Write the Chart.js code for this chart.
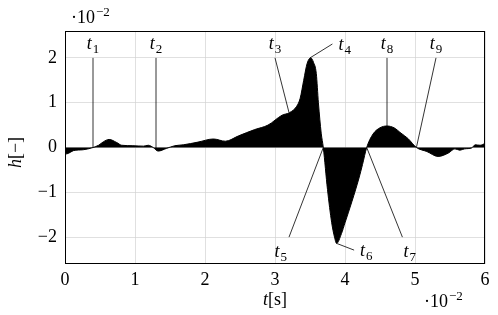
<!DOCTYPE html>
<html>
<head>
<meta charset="utf-8">
<script src="https://cdn.jsdelivr.net/npm/chart.js@4"></script>
<style>
  html, body { margin: 0; padding: 0; background: #fff; }
  #wrap { width: 498px; height: 315px; }
</style>
</head>
<body>
<div id="wrap"><canvas id="chart" width="498" height="315"></canvas></div>
<script>
// time axis (x 10^-2 s) and response h (x 10^-2)
const tVals = [0, 0.05, 0.12, 0.26, 0.38, 0.48, 0.55, 0.63, 0.74, 0.81, 0.97, 1.12, 1.19, 1.26, 1.33, 1.45, 1.57, 1.69, 1.9, 2.12, 2.29, 2.48, 2.71, 2.9, 3.1, 3.21, 3.31, 3.36, 3.41, 3.46, 3.51, 3.55, 3.59, 3.62, 3.66, 3.69, 3.75, 3.81, 3.85, 3.88, 3.95, 4.0, 4.1, 4.2, 4.25, 4.31, 4.4, 4.5, 4.6, 4.7, 4.8, 4.9, 5.02, 5.17, 5.33, 5.48, 5.57, 5.64, 5.71, 5.81, 5.86, 5.93, 6.0];
const hVals = [-0.15, -0.13, -0.07, -0.05, -0.01, 0.05, 0.13, 0.18, 0.11, 0.05, 0.04, 0.03, 0.05, 0.0, -0.08, -0.02, 0.04, 0.06, 0.12, 0.19, 0.14, 0.26, 0.4, 0.5, 0.72, 0.78, 0.92, 1.1, 1.5, 1.88, 2.0, 1.9, 1.65, 1.0, 0.32, 0, -0.94, -1.68, -2.0, -2.14, -1.92, -1.68, -1.2, -0.68, -0.38, 0, 0.3, 0.44, 0.48, 0.44, 0.32, 0.2, 0, -0.09, -0.2, -0.12, -0.03, -0.06, -0.03, -0.01, 0.06, 0.05, 0.09];

const xTicks = [0, 1, 2, 3, 4, 5, 6];
const yTicks = [-2, -1, 0, 1, 2];

// marker lines t1..t9: from point on curve to label point
const markNames = ["1", "2", "3", "4", "5", "6", "7", "8", "9"];
const markFromT = [0.4, 1.3, 3.2, 3.5, 3.69, 3.88, 4.31, 4.6, 5.02];
const markFromH = [0, -0.05, 0.78, 2.0, 0, -2.14, 0, 0.48, 0];
const markToT = [0.4, 1.3, 3.0, 3.82, 3.2, 4.13, 4.82, 4.6, 5.3];
const markToH = [2.0, 2.0, 2.0, 2.31, -2.0, -2.29, -2.0, 2.0, 2.0];
// where the label sits relative to the end of its line
const markPlace = ["above", "above", "above", "right", "belowLeft", "right", "belowRight", "above", "above"];

const serif = "'Liberation Serif', 'DejaVu Serif', serif";

const curve = tVals.map((t, i) => ({ x: t, y: hVals[i] }));

const markSets = markNames.map((n, i) => ({
  label: "t" + n,
  data: [{ x: markFromT[i], y: markFromH[i] }, { x: markToT[i], y: markToH[i] }],
  borderColor: "#000",
  borderWidth: 0.8,
  pointRadius: 0,
  fill: false,
  tension: 0
}));

function minus(v) {
  return String(v).replace("-", "\u2212");
}

const extras = {
  id: "extras",
  afterDraw(chart) {
    const ctx = chart.ctx;
    const a = chart.chartArea;
    const xs = chart.scales.x;
    const ys = chart.scales.y;
    ctx.save();
    // frame
    ctx.strokeStyle = "#000";
    ctx.lineWidth = 1;
    ctx.strokeRect(a.left + 0.5, a.top + 0.5, a.right - a.left - 1, a.bottom - a.top - 1);

    ctx.fillStyle = "#000";
    ctx.textBaseline = "alphabetic";

    // marker labels
    markNames.forEach((n, i) => {
      const px = xs.getPixelForValue(markToT[i]);
      const py = ys.getPixelForValue(markToH[i]);
      ctx.font = "italic 18px " + serif;
      const tw = ctx.measureText("t").width;
      ctx.font = "13px " + serif;
      const sw = ctx.measureText(n).width;
      const w = tw + sw + 1;
      let x0, base;
      switch (markPlace[i]) {
        case "above": x0 = px - w / 2; base = py - 9; break;
        case "right": x0 = px + 6; base = py + 6; break;
        case "belowLeft": x0 = px - w - 2; base = py + 20; break;
        case "belowRight": x0 = px + 1; base = py + 20; break;
      }
      ctx.textAlign = "left";
      ctx.font = "italic 18px " + serif;
      ctx.fillText("t", x0, base);
      ctx.font = "13px " + serif;
      ctx.fillText(n, x0 + tw + 1, base + 4);
    });

    // exponent notes
    function expo(x, base) {
      ctx.textAlign = "left";
      ctx.font = "18px " + serif;
      const s = "\u00b710";
      ctx.fillText(s, x, base);
      const w = ctx.measureText(s).width;
      ctx.font = "13px " + serif;
      ctx.fillText("\u22122", x + w + 1, base - 7);
    }
    expo(a.left + 6, 23);
    expo(a.right - 61, 307);

    // axis titles
    ctx.font = "italic 18px " + serif;
    const tW = ctx.measureText("t").width;
    ctx.font = "18px " + serif;
    const rW = ctx.measureText("[s]").width;
    const cx = (a.left + a.right) / 2 - (tW + rW) / 2;
    ctx.textAlign = "left";
    ctx.font = "italic 18px " + serif;
    ctx.fillText("t", cx, 305);
    ctx.font = "18px " + serif;
    ctx.fillText("[s]", cx + tW, 305);

    ctx.translate(21, (a.top + a.bottom) / 2 + 5);
    ctx.rotate(-Math.PI / 2);
    ctx.font = "italic 18px " + serif;
    const hW = ctx.measureText("h").width;
    ctx.font = "18px " + serif;
    const bW = ctx.measureText("[\u2212]").width;
    const hx = -(hW + bW) / 2;
    ctx.font = "italic 18px " + serif;
    ctx.fillText("h", hx, 0);
    ctx.font = "18px " + serif;
    ctx.fillText("[\u2212]", hx + hW, 0);
    ctx.restore();
  }
};

new Chart(document.getElementById("chart"), {
  type: "line",
  data: {
    datasets: [{
      label: "h",
      data: curve,
      borderColor: "#000",
      backgroundColor: "#000",
      borderWidth: 1,
      pointRadius: 0,
      fill: "origin",
      cubicInterpolationMode: "monotone"
    }].concat(markSets)
  },
  options: {
    responsive: false,
    animation: false,
    layout: { padding: { top: 31, right: 13, left: 0, bottom: 0 } },
    plugins: {
      legend: { display: false },
      tooltip: { enabled: false }
    },
    scales: {
      x: {
        type: "linear",
        min: 0,
        max: 6,
        afterBuildTicks: s => { s.ticks = xTicks.map(v => ({ value: v })); },
        afterFit: s => { s.height = 51; },
        grid: { color: "#d2d2d2", lineWidth: 0.7, drawTicks: false },
        border: { display: false },
        ticks: {
          padding: 5,
          color: "#000",
          font: { family: serif, size: 18 },
          callback: v => minus(v)
        }
      },
      y: {
        min: -2.6,
        max: 2.6,
        afterBuildTicks: s => { s.ticks = yTicks.map(v => ({ value: v })); },
        afterFit: s => { s.width = 65; },
        grid: { color: "#d2d2d2", lineWidth: 0.7, drawTicks: false },
        border: { display: false },
        ticks: {
          padding: 8,
          color: "#000",
          font: { family: serif, size: 18 },
          callback: v => minus(v)
        }
      }
    }
  },
  plugins: [extras]
});
</script>
</body>
</html>
